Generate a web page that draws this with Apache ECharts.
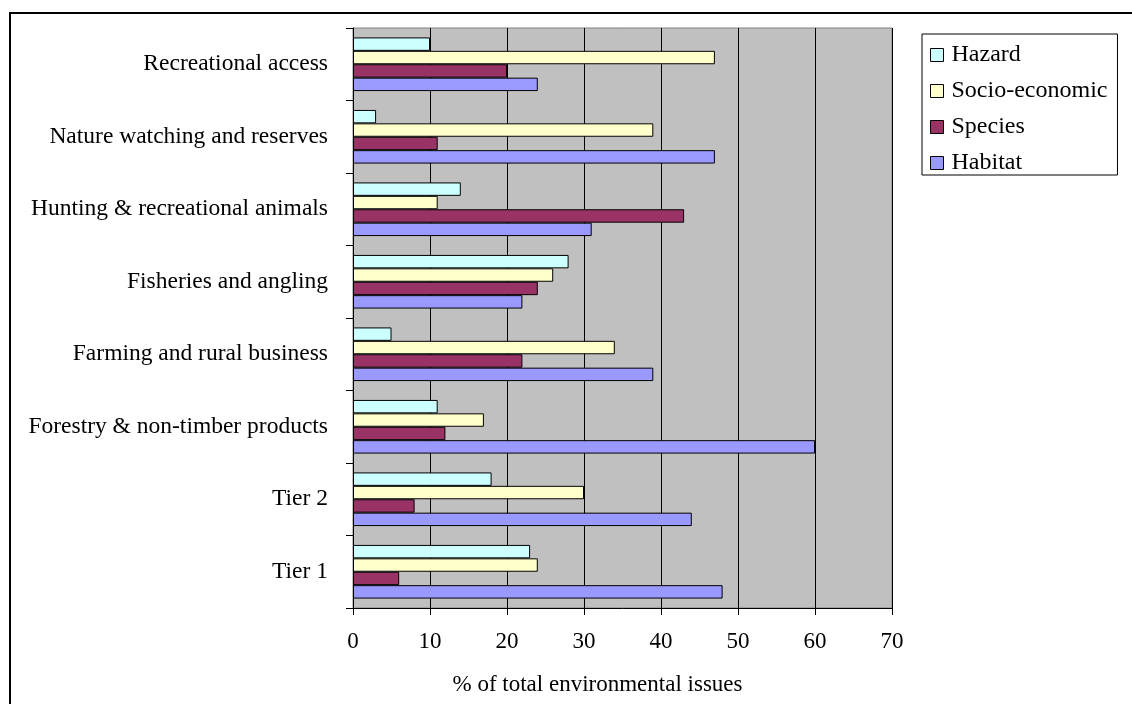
<!DOCTYPE html>
<html>
<head>
<meta charset="utf-8">
<script src="https://cdn.jsdelivr.net/npm/echarts@6/dist/echarts.min.js"></script>
<style>
  html, body { margin: 0; padding: 0; background: #fff; }
  #chart { width: 1132px; height: 704px; }
</style>
</head>
<body>
<div id="chart"></div>
<script>
// categories, top to bottom as in the picture
var categories = [
  'Recreational access',
  'Nature watching and reserves',
  'Hunting & recreational animals',
  'Fisheries and angling',
  'Farming and rural business',
  'Forestry & non-timber products',
  'Tier 2',
  'Tier 1'
]
var hazard = [10, 3, 14, 28, 5, 11, 18, 23]
var socioEconomic = [47, 39, 11, 26, 34, 17, 30, 24]
var species = [20, 11, 43, 24, 22, 12, 8, 6]
var habitat = [24, 47, 31, 22, 39, 60, 44, 48]
var xTicks = [0, 10, 20, 30, 40, 50, 60, 70]

var font = "'Liberation Serif', 'Times New Roman', serif"

function barSeries(name, data, color) {
  return {
    name: name,
    type: 'bar',
    data: data,
    barGap: '0%',
    barCategoryGap: '26%',
    itemStyle: { color: color, borderColor: '#000', borderWidth: 1 }
  }
}

var chart = echarts.init(document.getElementById('chart'))
chart.setOption({
  animation: false,
  textStyle: { fontFamily: font, color: '#000' },
  graphic: [{
    type: 'rect',
    shape: { x: 10, y: 13, width: 1300, height: 900 },
    style: { fill: 'none', stroke: '#000', lineWidth: 2 },
    silent: true
  }],
  grid: {
    left: 353, top: 28, right: 240, bottom: 96,
    show: true, backgroundColor: '#c0c0c0', borderColor: '#808080', borderWidth: 1
  },
  legend: {
    orient: 'vertical',
    left: 922, top: 34,
    data: ['Hazard', 'Socio-economic', 'Species', 'Habitat'],
    itemWidth: 13, itemHeight: 13, itemGap: 12,
    padding: [9, 10, 0, 8],
    borderColor: '#000', borderWidth: 1, backgroundColor: '#fff',
    icon: 'rect',
    itemStyle: { borderColor: '#000', borderWidth: 1 },
    textStyle: { fontFamily: font, fontSize: 24, lineHeight: 23, color: '#000', padding: [0, 0, 0, 3] }
  },
  xAxis: {
    type: 'value',
    min: xTicks[0], max: xTicks[xTicks.length - 1], interval: 10,
    name: '% of total environmental issues',
    nameLocation: 'middle', nameGap: 65,
    nameTextStyle: { fontFamily: font, fontSize: 23, color: '#000', padding: [0, 50, 0, 0] },
    axisLine: { show: true, lineStyle: { color: '#000', width: 1 } },
    axisTick: { show: true, length: 7, lineStyle: { color: '#000' } },
    axisLabel: { fontFamily: font, fontSize: 23, color: '#000', margin: 22 },
    splitLine: { show: true, lineStyle: { color: '#000', width: 1 } }
  },
  yAxis: {
    type: 'category',
    data: categories,
    inverse: true,
    axisLine: { show: true, lineStyle: { color: '#000', width: 1 } },
    axisTick: { show: true, length: 7, lineStyle: { color: '#000' } },
    axisLabel: { fontFamily: font, fontSize: 23.5, color: '#000', margin: 25 }
  },
  series: [
    barSeries('Hazard', hazard, '#ccffff'),
    barSeries('Socio-economic', socioEconomic, '#ffffcc'),
    barSeries('Species', species, '#993366'),
    barSeries('Habitat', habitat, '#9999ff')
  ]
})
</script>
</body>
</html>
